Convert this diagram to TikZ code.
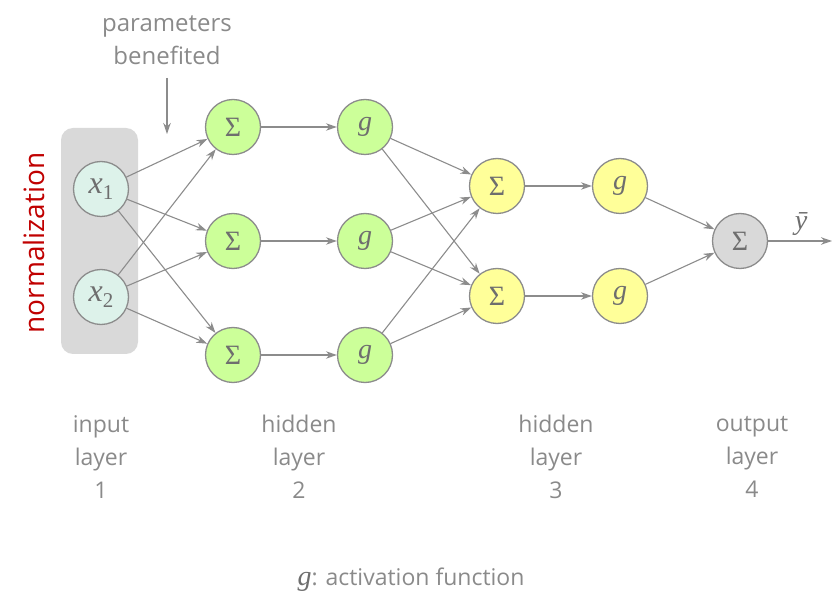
\documentclass[tikz,border=0pt]{standalone}
\usepackage{fontspec}
\setmainfont{Open Sans}
\newfontfamily\symfont{Liberation Serif}
\usetikzlibrary{arrows.meta}
\definecolor{txtgray}{HTML}{8A8A8A}
\definecolor{symgray}{HTML}{6E6E6E}
\definecolor{edgegray}{HTML}{8C8C8C}
\definecolor{inputfill}{HTML}{DDF2EA}
\definecolor{hidA}{HTML}{CCFF99}
\definecolor{hidB}{HTML}{FFFF99}
\definecolor{outfill}{HTML}{D9D9D9}
\definecolor{boxgray}{HTML}{D9D9D9}
\definecolor{normred}{HTML}{C00000}
\newcommand{\Ssym}{{\symfont Σ}}
\newcommand{\gsym}{{\symfont\itshape g}}
\newcommand{\xsub}[1]{{\fontsize{32}{32}\selectfont\symfont\itshape x}\raisebox{-6pt}{\fontsize{21}{21}\selectfont\symfont #1}}
\tikzset{
  neuron/.style={circle, draw=edgegray, line width=1.3pt, minimum size=55pt, inner sep=0pt, text=symgray, font=\fontsize{28}{28}\selectfont},
  inp/.style={neuron, fill=inputfill},
  hA/.style={neuron, fill=hidA},
  hB/.style={neuron, fill=hidB},
  outn/.style={neuron, fill=outfill},
  conn/.style={draw=edgegray, line width=1.1pt, -{Stealth[length=11pt,width=7.5pt]}},
  lbl/.style={text=txtgray, font=\fontsize{23}{33}\selectfont, align=center},
}
\begin{document}
\begin{tikzpicture}[x=1pt,y=-1pt]
\useasboundingbox (0,0) rectangle (838,609);
% normalization box
\fill[boxgray, rounded corners=12pt] (61,128) rectangle (138,354);
\node[rotate=90, text=normred, font=\fontsize{28}{28}\selectfont] (norm) at (34,243) {normalization};
% nodes
\node[inp] (x1) at (101,189) {\xsub{1}};
\node[inp] (x2) at (101,297) {\xsub{2}};
\node[hA] (s1) at (233,127) {\Ssym};
\node[hA] (s2) at (233,241) {\Ssym};
\node[hA] (s3) at (233,355) {\Ssym};
\node[hA] (g1) at (365,127) {\gsym};
\node[hA] (g2) at (365,241) {\gsym};
\node[hA] (g3) at (365,355) {\gsym};
\node[hB] (t1) at (497,186) {\Ssym};
\node[hB] (t2) at (497,296) {\Ssym};
\node[hB] (h1) at (620,186) {\gsym};
\node[hB] (h2) at (620,296) {\gsym};
\node[outn] (o) at (740,241) {\Ssym};
\coordinate (yend) at (832,241);
\node[text=symgray, font=\fontsize{28}{28}\selectfont, inner sep=1pt] (ybar) at (801,224) {{\symfont\itshape ȳ}};
% connections
\foreach \a in {x1,x2}{\foreach \b in {s1,s2,s3}{\draw[conn] (\a) -- (\b);}}
\draw[conn] (s1) -- (g1);
\draw[conn] (s2) -- (g2);
\draw[conn] (s3) -- (g3);
\foreach \a in {g1,g2,g3}{\foreach \b in {t1,t2}{\draw[conn] (\a) -- (\b);}}
\draw[conn] (t1) -- (h1);
\draw[conn] (t2) -- (h2);
\draw[conn] (h1) -- (o);
\draw[conn] (h2) -- (o);
\draw[conn] (o) -- (yend);
% parameters benefited
\node[lbl, font=\fontsize{24}{33}\selectfont] (pb) at (167,40) {parameters\\benefited};
\coordinate (pbstart) at (167,78);
\coordinate (pbend) at (167,134);
\draw[conn] (pbstart) -- (pbend);
% layer labels
\node[lbl] (L1) at (101,457) {input\\layer\\1};
\node[lbl] (L2) at (299,457) {hidden\\layer\\2};
\node[lbl] (L3) at (556,457) {hidden\\layer\\3};
\node[lbl] (L4) at (752,457) {output\\layer\\4};
\node[lbl] (act) at (411,580) {{\fontsize{28}{28}\selectfont\color{symgray}\gsym}: activation function};
\end{tikzpicture}
\end{document}
